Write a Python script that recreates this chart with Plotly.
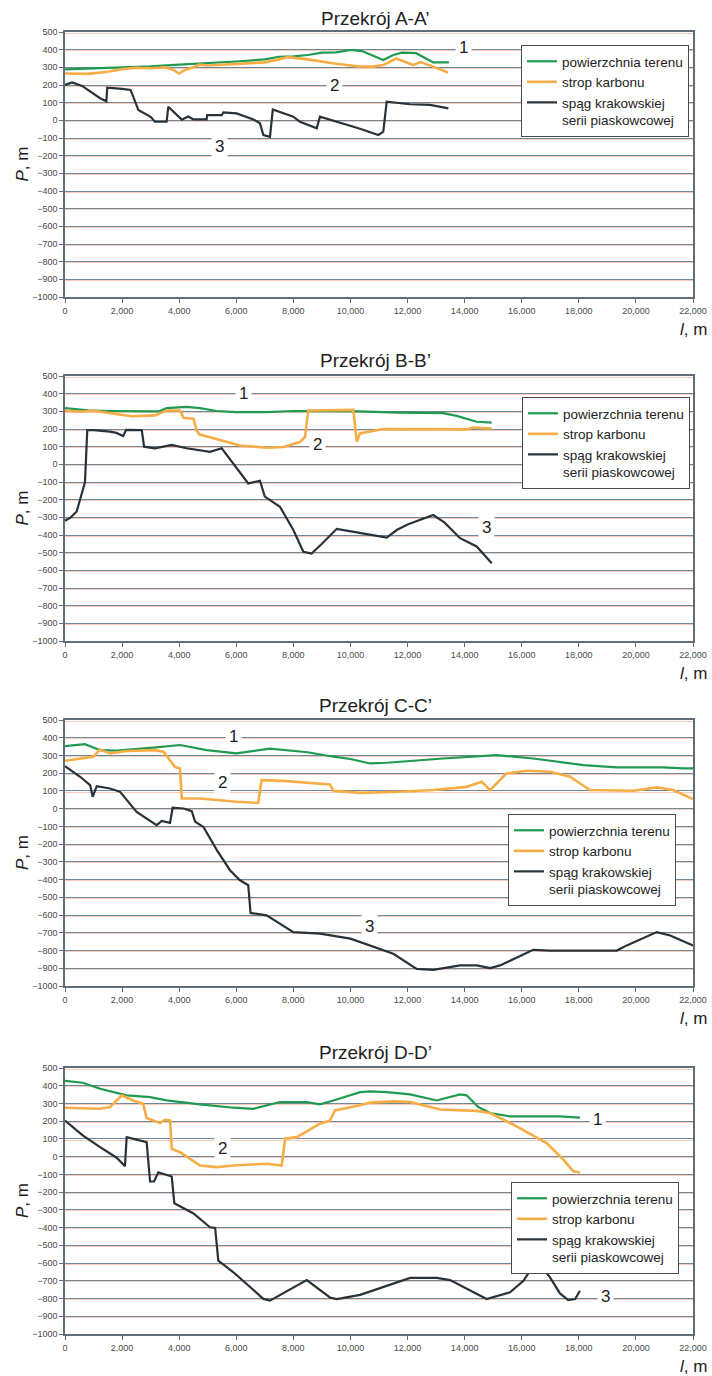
import plotly.graph_objects as go

# ---------------- DATA ----------------
X_TICKS = [0, 2000, 4000, 6000, 8000, 10000, 12000, 14000, 16000, 18000, 20000, 22000]
Y_TICKS = list(range(-1000, 501, 100))

SERIES_NAMES = ["powierzchnia terenu", "strop karbonu", "spąg krakowskiej<br>serii piaskowcowej"]
PANEL_TITLES = ["Przekrój A-A’", "Przekrój B-B’", "Przekrój C-C’", "Przekrój D-D’"]

# Panel A
A_teren_l = [0, 1000, 2000, 3000, 4000, 5000, 6000, 7000, 7500, 8000, 8500, 9000, 9500, 10000, 10400, 10800, 11150, 11500, 11800, 12300, 12600, 12900, 13450]
A_teren_p = [288, 293, 300, 305, 315, 323, 333, 345, 360, 362, 370, 383, 385, 398, 392, 365, 341, 370, 383, 380, 355, 328, 328]
A_strop_l = [0, 800, 1500, 2000, 2500, 3000, 3500, 3800, 4000, 4200, 4500, 4700, 5000, 6000, 7000, 7500, 7800, 8500, 9500, 10300, 10800, 11150, 11600, 12200, 12450, 12900, 13420]
A_strop_p = [265, 263, 275, 290, 298, 295, 300, 285, 265, 285, 300, 315, 310, 320, 328, 345, 358, 345, 320, 305, 304, 313, 350, 313, 330, 304, 270]
A_spag_l = [0, 250, 600, 1000, 1230, 1450, 1480, 2000, 2300, 2570, 3000, 3150, 3560, 3620, 4090, 4320, 4500, 4960, 4980, 5490, 5550, 6010, 6600, 6830, 6950, 7180, 7280, 8000, 8230, 8820, 8930, 10280, 10980, 11150, 11270, 12090, 12790, 13430]
A_spag_p = [200, 215, 195, 150, 125, 108, 185, 178, 172, 58, 20, -8, -8, 77, 4, 22, 5, 5, 29, 29, 45, 39, 5, -17, -83, -93, 62, 21, -8, -45, 21, -45, -83, -64, 106, 91, 87, 68]

# Panel B
B_teren_l = [0, 800, 1500, 2500, 3300, 3560, 4260, 4730, 5310, 6000, 7060, 8000, 9000, 10300, 11700, 13250, 13720, 14420, 14950]
B_teren_p = [318, 305, 302, 300, 300, 318, 325, 318, 302, 296, 295, 302, 300, 300, 293, 290, 274, 241, 236]
B_strop_l = [0, 500, 1000, 1500, 2340, 3150, 3560, 4030, 4150, 4500, 4610, 4700, 5300, 6130, 7060, 7650, 8230, 8410, 8520, 10100, 10220, 10330, 11150, 12320, 14070, 14300, 14950]
B_strop_p = [305, 298, 303, 290, 272, 277, 305, 305, 264, 258, 192, 170, 145, 107, 94, 98, 126, 155, 305, 308, 128, 175, 200, 198, 198, 208, 203]
B_spag_l = [0, 200, 410, 700, 780, 1000, 1580, 1800, 2040, 2140, 2690, 2770, 3150, 3740, 4260, 5080, 5490, 5800, 6130, 6420, 6830, 7000, 7530, 8000, 8350, 8640, 9000, 9520, 10220, 10800, 11270, 11620, 12000, 12900, 13300, 13840, 14420, 14950]
B_spag_p = [-320, -300, -267, -101, 194, 194, 185, 178, 160, 195, 194, 100, 91, 110, 91, 71, 91, 25, -51, -108, -93, -183, -240, -372, -495, -505, -450, -365, -385, -400, -415, -372, -340, -287, -330, -418, -465, -560]

# Panel C
C_teren_l = [0, 700, 1230, 1810, 3090, 4030, 4960, 6010, 7180, 8500, 9400, 10000, 10690, 11270, 13250, 15120, 16400, 18160, 19330, 20960, 21660, 22000]
C_teren_p = [353, 364, 330, 327, 344, 359, 330, 312, 338, 318, 293, 280, 255, 259, 283, 302, 283, 246, 233, 233, 227, 227]
C_strop_l = [0, 990, 1230, 1580, 2160, 3150, 3450, 3850, 4030, 4090, 4730, 6010, 6770, 6890, 7650, 9280, 9400, 10340, 11740, 12900, 14070, 14600, 14890, 15470, 16170, 16990, 17690, 18390, 19910, 20730, 21310, 22000]
C_strop_p = [270, 293, 334, 312, 325, 330, 321, 236, 227, 57, 57, 39, 33, 161, 157, 137, 101, 89, 95, 105, 123, 152, 105, 199, 214, 208, 180, 105, 101, 120, 105, 54]
C_spag_l = [0, 530, 880, 970, 1110, 1580, 1930, 2510, 3210, 3390, 3680, 3770, 4150, 4440, 4560, 4850, 5320, 5780, 6130, 6420, 6500, 7060, 8000, 8930, 10000, 10690, 11500, 12320, 12900, 13840, 14420, 14890, 15240, 16400, 16990, 19330, 19680, 20730, 21200, 22000]
C_spag_p = [240, 180, 133, 67, 127, 114, 95, -18, -93, -69, -80, 5, 1, -14, -74, -103, -234, -347, -404, -432, -588, -602, -696, -705, -733, -771, -818, -903, -909, -884, -884, -899, -884, -796, -800, -800, -771, -696, -715, -771]

# Panel D
D_teren_l = [0, 620, 1230, 1580, 1930, 2160, 2980, 3560, 4730, 5900, 6600, 7530, 8470, 8930, 9400, 10340, 10690, 11270, 12090, 13020, 13840, 14070, 14480, 14890, 15590, 17340, 18040]
D_teren_p = [427, 417, 383, 368, 355, 346, 336, 317, 295, 276, 270, 308, 308, 295, 317, 364, 368, 364, 351, 317, 351, 346, 280, 246, 227, 227, 220]
D_strop_l = [0, 1230, 1580, 1990, 2390, 2740, 2860, 3330, 3500, 3680, 3740, 4030, 4730, 5320, 5900, 7060, 7590, 7710, 8120, 8930, 9280, 9460, 10340, 10690, 11500, 12090, 13140, 14420, 14890, 15820, 16870, 17460, 17810, 18040]
D_strop_p = [276, 270, 280, 346, 317, 298, 218, 189, 208, 204, 44, 25, -50, -59, -50, -40, -50, 101, 110, 186, 204, 261, 290, 305, 312, 308, 266, 258, 246, 171, 77, -17, -83, -89]
D_spag_l = [0, 620, 1230, 1810, 2100, 2160, 2860, 2980, 3120, 3270, 3740, 3830, 4500, 5080, 5260, 5370, 5900, 6950, 7180, 8470, 9280, 9520, 10340, 11150, 12090, 13020, 13490, 14770, 15590, 16060, 16520, 16990, 17340, 17630, 17870, 18040]
D_spag_p = [204, 120, 54, -6, -54, 110, 82, -140, -140, -88, -112, -263, -320, -398, -402, -586, -652, -802, -812, -696, -794, -803, -779, -737, -684, -684, -696, -803, -765, -700, -587, -681, -771, -809, -803, -756]

# curve number labels (label, l, P) per panel
A_labels = [("1", 13950, 410), ("2", 9450, 200), ("3", 5400, -150)]
B_labels = [("1", 6250, 400), ("2", 8850, 110), ("3", 14750, -360)]
C_labels = [("1", 5900, 405), ("2", 5500, 150), ("3", 10650, -665)]
D_labels = [("1", 18650, 210), ("2", 5500, 45), ("3", 18950, -790)]

# ---------------- STYLE / LAYOUT ----------------
W, H = 712, 1376
COLORS = ["#1f9a50", "#f7ad45", "#283238"]
WIDTHS = [2.2, 2.6, 2.2]
FONT = "Liberation Sans, Arial, sans-serif"
AXIS_COLOR = "#5f6f7a"
GRID_COLOR = "#6f889b"
HALO_COLOR = "#f5cbb9"

panels = [
    dict(series=[(A_teren_l, A_teren_p), (A_strop_l, A_strop_p), (A_spag_l, A_spag_p)], labels=A_labels,
         top=32, bottom=297, title_y=18, legend=(521, 45)),
    dict(series=[(B_teren_l, B_teren_p), (B_strop_l, B_strop_p), (B_spag_l, B_spag_p)], labels=B_labels,
         top=376, bottom=641, title_y=360, legend=(522, 397)),
    dict(series=[(C_teren_l, C_teren_p), (C_strop_l, C_strop_p), (C_spag_l, C_spag_p)], labels=C_labels,
         top=720, bottom=986, title_y=705, legend=(508, 814)),
    dict(series=[(D_teren_l, D_teren_p), (D_strop_l, D_strop_p), (D_spag_l, D_spag_p)], labels=D_labels,
         top=1068, bottom=1334, title_y=1052, legend=(511, 1182)),
]


def px_x(v):
    return v / W


def px_y(v):
    return 1 - v / H


X0, X1 = 65, 693
fig = go.Figure()
annotations = []
layout = dict(template="none", width=W, height=H, margin=dict(l=0, r=0, t=0, b=0, autoexpand=False),
              paper_bgcolor="white", plot_bgcolor="white", showlegend=True,
              font=dict(family=FONT, color="#222"))

for i, p in enumerate(panels, start=1):
    sfx = "" if i == 1 else str(i)
    xa, ya = "x" + sfx, "y" + sfx
    leg = "legend" + sfx
    for k, (lx, py) in enumerate(p["series"]):
        fig.add_trace(go.Scatter(x=lx, y=py, mode="lines", name=SERIES_NAMES[k],
                                 line=dict(color=COLORS[k], width=WIDTHS[k]),
                                 xaxis=xa, yaxis=ya, legend=leg, showlegend=True))
    ydom = [px_y(p["bottom"]), px_y(p["top"])]
    layout["xaxis" + sfx] = dict(domain=[px_x(X0), px_x(X1)], range=[0, 22000], anchor=ya, automargin=False,
                                 tickvals=X_TICKS, tickformat=",d", showgrid=False, zeroline=False,
                                 ticks="outside", ticklen=4, tickcolor=AXIS_COLOR,
                                 showline=True, mirror=True, linecolor=AXIS_COLOR, linewidth=1.5,
                                 tickfont=dict(size=9, color="#4a4a4a"))
    layout["yaxis" + sfx] = dict(domain=ydom, range=[-1000, 500], anchor=xa, automargin=False,
                                 tickvals=Y_TICKS, showgrid=True, gridcolor=GRID_COLOR, gridwidth=1,
                                 minor=dict(tickvals=[v - 6 for v in Y_TICKS[1:]], showgrid=True,
                                            gridcolor=HALO_COLOR, gridwidth=1, ticks=""),
                                 zeroline=False, ticks="outside", ticklen=4, tickcolor=AXIS_COLOR,
                                 showline=True, mirror=True, linecolor=AXIS_COLOR, linewidth=1.5,
                                 tickfont=dict(size=9, color="#4a4a4a"))
    lx_px, ly_px = p["legend"]
    layout[leg] = dict(x=px_x(lx_px), y=px_y(ly_px), xanchor="left", yanchor="top",
                       bgcolor="white", bordercolor="#4a4a4a", borderwidth=1,
                       font=dict(size=13.5, family=FONT, color="#222"), valign="top",
                       itemwidth=30, tracegroupgap=0)
    # panel title
    annotations.append(dict(text=PANEL_TITLES[i - 1], xref="paper", yref="paper",
                            x=px_x(375), y=px_y(p["title_y"]), xanchor="center", yanchor="middle",
                            showarrow=False, font=dict(size=19, color="#222")))
    # y-axis title
    annotations.append(dict(text="<i>P</i>, m", xref="paper", yref="paper",
                            x=px_x(22), y=px_y((p["top"] + p["bottom"]) / 2), textangle=-90,
                            xanchor="center", yanchor="middle",
                            showarrow=False, font=dict(size=17, color="#222")))
    # x-axis title
    annotations.append(dict(text="<i>l</i>, m", xref="paper", yref="paper",
                            x=px_x(709), y=px_y(p["bottom"] + 32), xanchor="right", yanchor="middle",
                            showarrow=False, font=dict(size=17, color="#222")))
    # curve labels
    for (txt, lv, pv) in p["labels"]:
        annotations.append(dict(text=txt, x=lv, y=pv, xref=xa, yref=ya, showarrow=False,
                                xanchor="center", yanchor="middle",
                                font=dict(size=17, color="#222"), bgcolor="white", borderpad=3))

layout["annotations"] = annotations
fig.update_layout(**layout)
fig.write_html("out.html", config={"displayModeBar": False},
               post_script="document.body.style.margin='0';document.body.style.overflow='hidden';")
